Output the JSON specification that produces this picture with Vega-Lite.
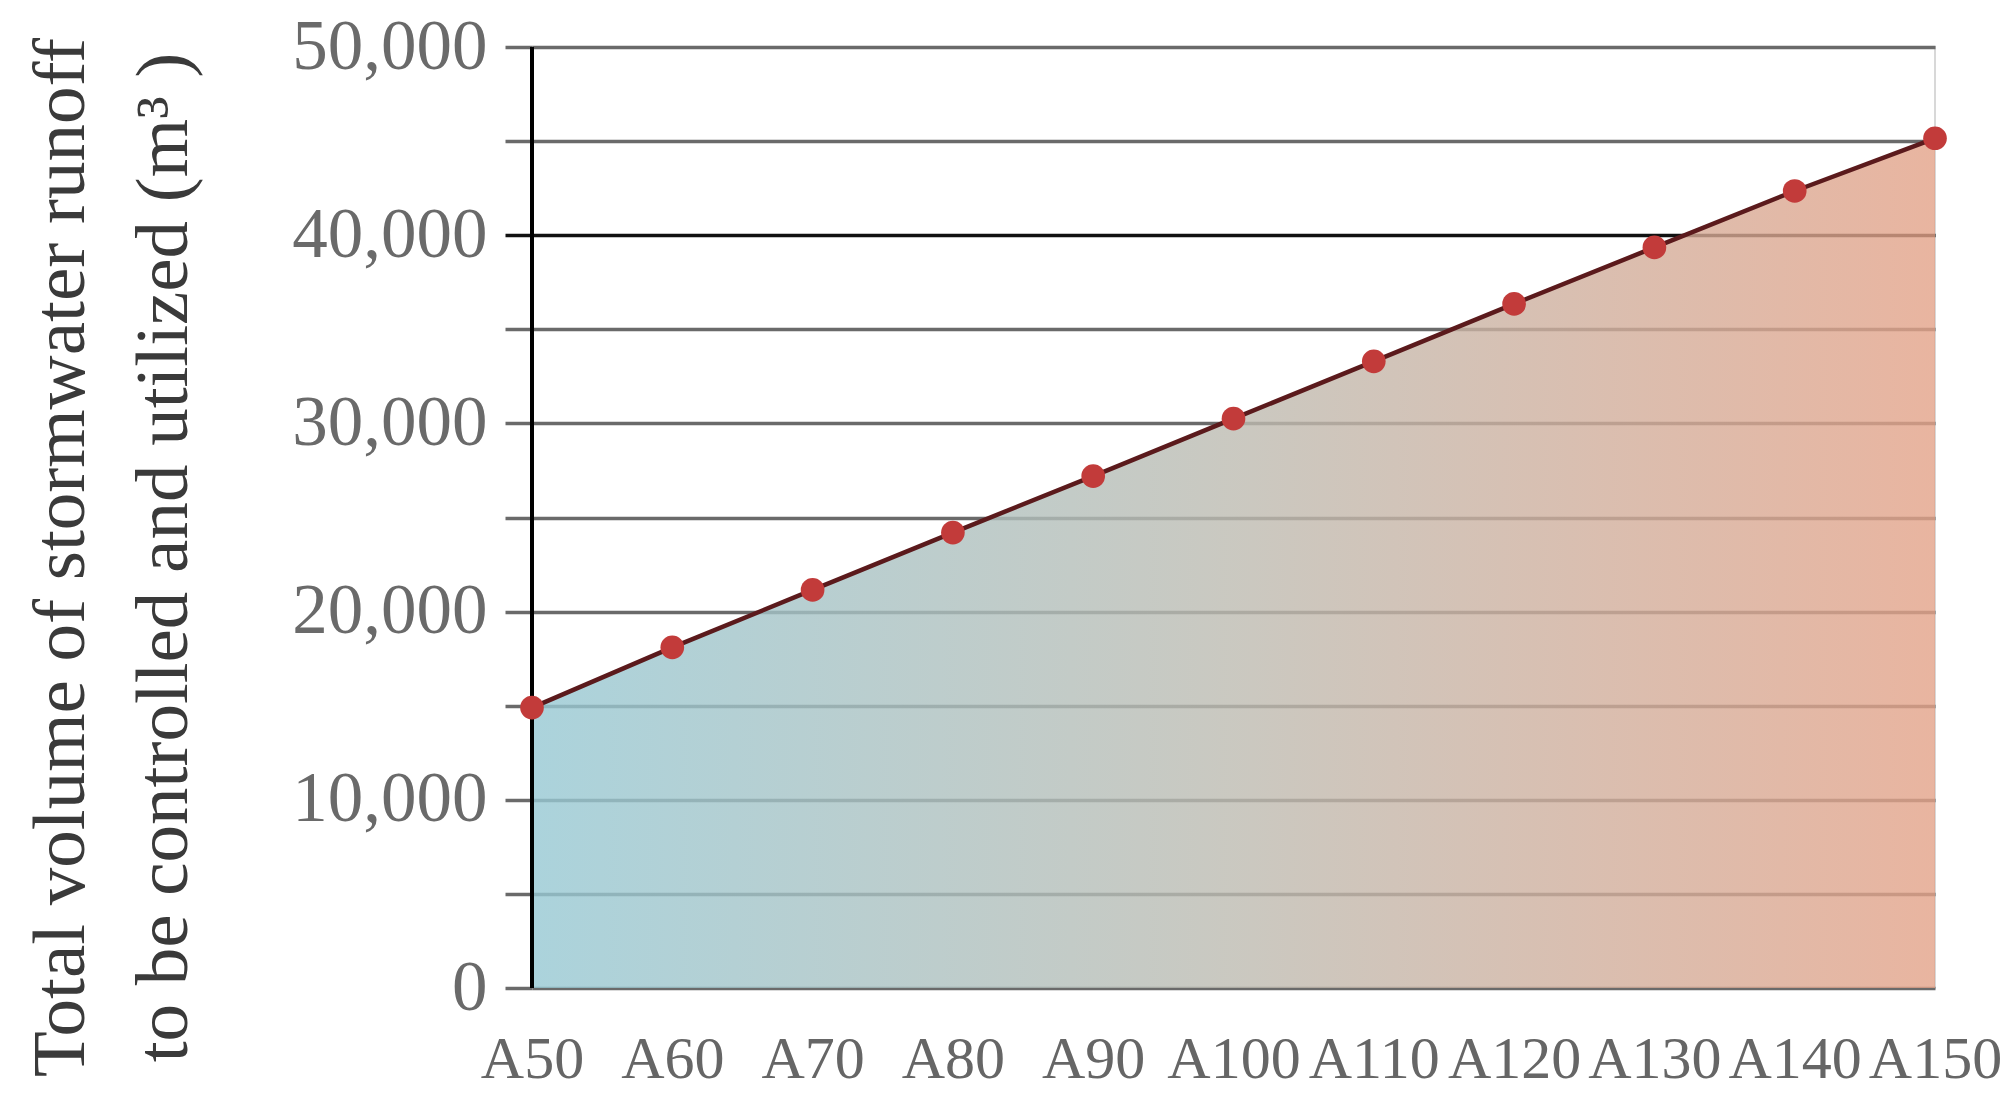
{
  "$schema": "https://vega.github.io/schema/vega-lite/v6.json",
  "width": 1403,
  "height": 941,
  "autosize": "none",
  "padding": {"left": 532, "top": 47, "right": 71, "bottom": 123},
  "background": "white",
  "config": {
    "view": {"stroke": "#d8d8d8", "strokeWidth": 2},
    "font": "Liberation Serif"
  },
  "data": {
    "values": [
      {"scenario": "A50", "volume": 14900},
      {"scenario": "A60", "volume": 18100},
      {"scenario": "A70", "volume": 21150},
      {"scenario": "A80", "volume": 24200},
      {"scenario": "A90", "volume": 27200},
      {"scenario": "A100", "volume": 30250},
      {"scenario": "A110", "volume": 33300},
      {"scenario": "A120", "volume": 36350},
      {"scenario": "A130", "volume": 39350},
      {"scenario": "A140", "volume": 42350},
      {"scenario": "A150", "volume": 45150}
    ]
  },
  "encoding": {
    "x": {
      "field": "scenario",
      "type": "ordinal",
      "sort": null,
      "scale": {"type": "point", "padding": 0},
      "axis": {
        "title": null,
        "labelAngle": 0,
        "labelFontSize": 60,
        "labelColor": "#666666",
        "labelPadding": 42,
        "labelOverlap": false,
        "labelLimit": 0,
        "ticks": false,
        "domain": false,
        "grid": false
      }
    },
    "y": {
      "field": "volume",
      "type": "quantitative",
      "scale": {"domain": [0, 50000]},
      "axis": {
        "title": ["Total volume of stormwater runoff", "to be controlled and utilized (m³ )"],
        "values": [0, 5000, 10000, 15000, 20000, 25000, 30000, 35000, 40000, 45000, 50000],
        "labelExpr": "datum.value % 10000 === 0 ? format(datum.value, ',') : ''",
        "labelFontSize": 71,
        "labelColor": "#6a6a6a",
        "labelPadding": 18,
        "labelLimit": 0,
        "grid": true,
        "gridColor": {"condition": {"test": "datum.value === 40000", "value": "#111111"}, "value": "#6a6a6a"},
        "gridWidth": 3.5,
        "tickColor": {"condition": {"test": "datum.value === 40000", "value": "#111111"}, "value": "#6a6a6a"},
        "tickWidth": 3.5,
        "tickSize": 27,
        "domain": false,
        "titleFontSize": 75,
        "titleFontWeight": "normal",
        "titleColor": "#3a3a3a",
        "titleAngle": -90,
        "titleAlign": "center",
        "titleBaseline": "top",
        "titleX": -508,
        "titleY": 510,
        "titleLineHeight": 103
      }
    }
  },
  "layer": [
    {
      "mark": {
        "type": "area",
        "opacity": 0.8,
        "color": {
          "gradient": "linear",
          "x1": 0, "y1": 0, "x2": 1, "y2": 0,
          "stops": [
            {"offset": 0, "color": "#96c8d3"},
            {"offset": 0.5, "color": "#bdbbb1"},
            {"offset": 1, "color": "#e3a288"}
          ]
        }
      }
    },
    {
      "mark": {"type": "rule", "color": "#000000", "strokeWidth": 3},
      "encoding": {
        "x": {"datum": "A50"},
        "y": {"datum": 0},
        "y2": {"datum": 50000}
      }
    },
    {
      "mark": {"type": "line", "color": "#5b1a1c", "strokeWidth": 4.5}
    },
    {
      "mark": {"type": "point", "filled": true, "color": "#c23b3a", "opacity": 1, "size": 560}
    }
  ]
}
